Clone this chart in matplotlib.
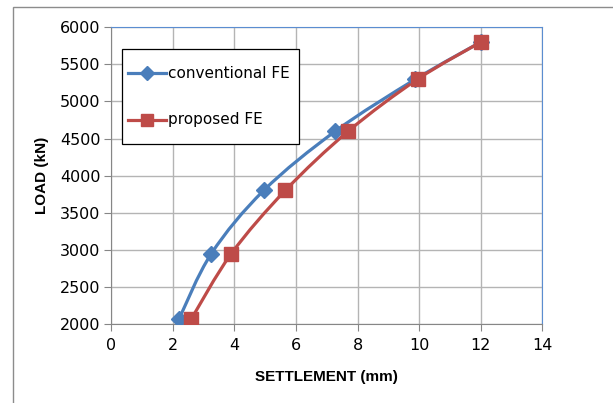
import numpy as np
import matplotlib
matplotlib.use("Agg")
import matplotlib.pyplot as plt
from matplotlib.path import Path
from matplotlib.patches import PathPatch, Rectangle
from matplotlib.lines import Line2D

# ---- data ----
conv_settlement = [2.2, 3.25, 4.95, 7.28, 9.88, 12.0]
conv_load = [2070, 2950, 3800, 4600, 5300, 5800]
prop_settlement = [2.6, 3.9, 5.65, 7.7, 9.95, 12.0]
prop_load = [2070, 2950, 3800, 4600, 5300, 5800]
series_names = ["conventional FE", "proposed FE"]
x_ticks = [0, 2, 4, 6, 8, 10, 12, 14]
y_ticks = [2000, 2500, 3000, 3500, 4000, 4500, 5000, 5500, 6000]

BLUE = "#4A7EBB"
RED = "#BE4B48"

plt.rcParams['font.family'] = ['DejaVu Sans']

W, H = 613, 403
fig = plt.figure(figsize=(W/100, H/100), dpi=100)
ax = fig.add_axes([111.4/W, 1-324/H, (542.2-111.4)/W, (324-27.3)/H])


def fx(px):
    return px / W


def fy(py):
    return 1 - py / H


def smooth_path(xs, ys):
    pts = np.column_stack([xs, ys]).astype(float)
    n = len(pts)
    verts = [pts[0]]
    codes = [Path.MOVETO]
    for i in range(n - 1):
        p0 = pts[i - 1] if i > 0 else pts[i]
        p1 = pts[i]
        p2 = pts[i + 1]
        p3 = pts[i + 2] if i + 2 < n else pts[i + 1]
        c1 = p1 + (p2 - p0) / 6.0
        c2 = p2 - (p3 - p1) / 6.0
        verts += [c1, c2, p2]
        codes += [Path.CURVE4] * 3
    return Path(verts, codes)


styles = [(BLUE, "D", 8.5), (RED, "s", 10)]
for (xs, ys), (col, mk, ms) in zip(
        [(conv_settlement, conv_load), (prop_settlement, prop_load)], styles):
    ax.add_patch(PathPatch(smooth_path(xs, ys), facecolor="none",
                           edgecolor=col, lw=2.3, zorder=3))
    ax.plot(xs, ys, linestyle="none", marker=mk, color=col, ms=ms, zorder=4)

ax.set_xlim(0, 14)
ax.set_ylim(2000, 6000)
ax.set_xticks(x_ticks)
ax.set_yticks(y_ticks)
ax.grid(True, color="#B4B4B4", lw=1)
ax.set_axisbelow(True)
for s in ["left", "bottom"]:
    ax.spines[s].set_color("#868686")
for s in ["top", "right"]:
    ax.spines[s].set_color("#5B8DD0")
ax.tick_params(direction="out", length=5, color="#868686", labelsize=11.5,
               pad=3)
ax.tick_params(axis="x", pad=5)

lab_font = dict(family=["Liberation Sans", "DejaVu Sans"], size=11,
                weight="bold")
ax.set_xlabel("SETTLEMENT (mm)", fontdict=lab_font, labelpad=12)
ax.set_ylabel("LOAD (kN)", fontdict=lab_font, labelpad=8)

# ---- legend (drawn manually to match the Excel layout) ----
fig.patches.append(Rectangle((fx(121.6), fy(144.3)), fx(299.4) - fx(121.6),
                             fy(49.3) - fy(144.3), transform=fig.transFigure,
                             facecolor="white", edgecolor="black", lw=0.9,
                             zorder=10))
for row_y, name, (col, mk, ms) in zip([73, 120], series_names, styles):
    fig.add_artist(Line2D([fx(128), fx(166)], [fy(row_y), fy(row_y)],
                          transform=fig.transFigure, color=col, lw=2.3,
                          zorder=11))
    fig.add_artist(Line2D([fx(147)], [fy(row_y)], transform=fig.transFigure,
                          color=col, marker=mk, ms=ms * 0.8, zorder=12))
    fig.text(fx(168), fy(row_y), name, fontsize=11, va="center", ha="left",
             zorder=13)

fig.patches.append(Rectangle((fx(13), -0.05), 1.2, fy(7) + 0.05,
                             transform=fig.transFigure, fill=False,
                             edgecolor="#8C8C8C", lw=1))

fig.savefig("out.png", dpi=100)
